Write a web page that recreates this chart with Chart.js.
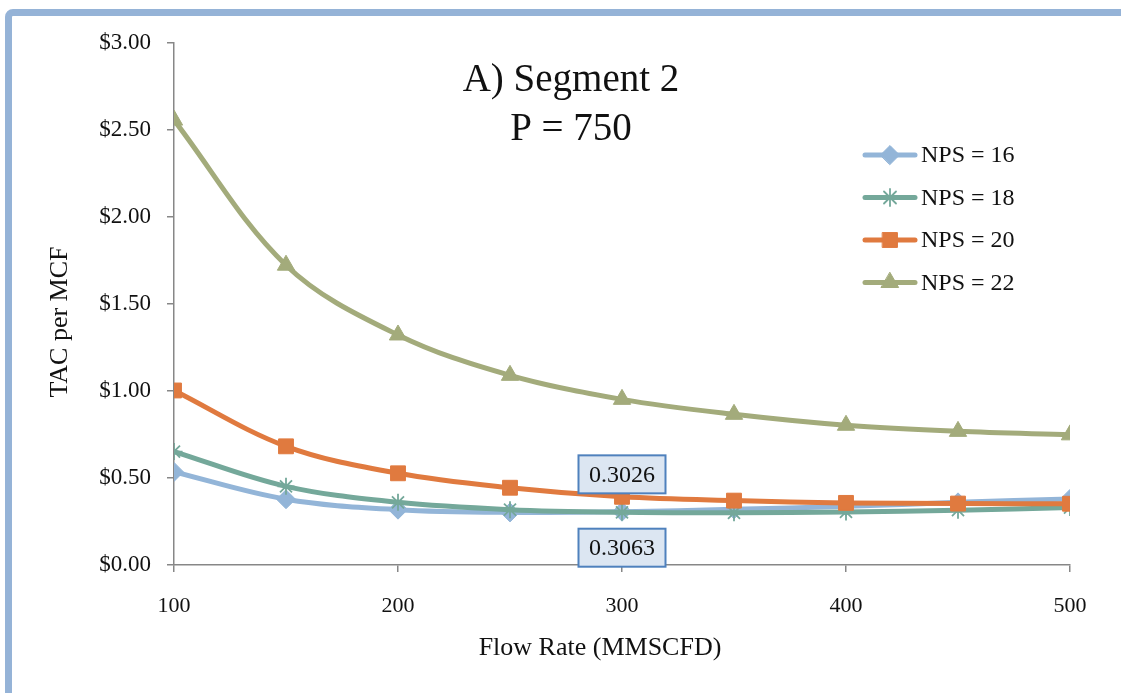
<!DOCTYPE html>
<html><head><meta charset="utf-8">
<script src="https://cdn.jsdelivr.net/npm/chart.js@4.4.0/dist/chart.umd.min.js"></script>
<style>
html,body{margin:0;padding:0;background:#fff;overflow:hidden;width:1121px;height:693px;}
#frame{position:absolute;left:5px;top:9px;width:1300px;height:900px;border:7px solid #95b3d7;border-radius:8px;box-sizing:border-box;}
#wrap{position:absolute;left:0;top:0;width:1121px;height:693px;}
</style></head>
<body>
<div id="frame"></div>
<div id="wrap"><canvas id="c" width="1121" height="693"></canvas></div>
<script>
// ---- data ----
const flowRates = [100, 150, 200, 250, 300, 350, 400, 450, 500];
const nps16 = [0.535, 0.378, 0.318, 0.302, 0.3063, 0.320, 0.337, 0.360, 0.380];
const nps18 = [0.652, 0.452, 0.360, 0.318, 0.3026, 0.300, 0.305, 0.315, 0.330];
const nps20 = [1.003, 0.682, 0.527, 0.444, 0.392, 0.370, 0.357, 0.353, 0.352];
const nps22 = [2.557, 1.723, 1.322, 1.090, 0.952, 0.866, 0.803, 0.768, 0.748];
const seriesLabels = ['NPS = 16', 'NPS = 18', 'NPS = 20', 'NPS = 22'];
const titleLines = ['A) Segment 2', 'P = 750'];
const xTitle = 'Flow Rate (MMSCFD)';
const yTitle = 'TAC per MCF';
// data labels: [series index, point index, placement]
const dataLabels = [[1, 4, 'above'], [0, 4, 'below']];

const FONT = "'Liberation Serif', 'Times New Roman', serif";
const colors = ['#93b5d8', '#74a89a', '#e07a3f', '#a3ab7b'];
const styles = ['rectRot', 'star', 'rect', 'triangle'];
const radii = [9.5, 8.5, 10.5, 10];
const allSeries = [nps16, nps18, nps20, nps22];

const datasets = allSeries.map((vals, i) => ({
  label: seriesLabels[i],
  data: flowRates.map((x, j) => ({x: x, y: vals[j]})),
  borderColor: colors[i],
  backgroundColor: colors[i],
  pointBackgroundColor: colors[i],
  pointBorderColor: colors[i],
  borderWidth: 5,
  pointStyle: styles[i],
  pointRadius: radii[i],
  pointBorderWidth: i === 1 ? 1.8 : 1,
  tension: 0.35,
  order: 4 - i
}));

const overlay = {
  id: 'overlay',
  afterDatasetsDraw(chart) {
    const ctx = chart.ctx;
    dataLabels.forEach(([ds, idx, place]) => {
      const pt = chart.getDatasetMeta(ds).data[idx];
      const val = allSeries[ds][idx];
      const w = 87, h = 38;
      const cy = place === 'above' ? pt.y - 38 : pt.y + 36;
      ctx.save();
      ctx.fillStyle = '#dce6f2';
      ctx.strokeStyle = '#4f81bd';
      ctx.lineWidth = 2;
      ctx.fillRect(pt.x - w / 2, cy - h / 2, w, h);
      ctx.strokeRect(pt.x - w / 2, cy - h / 2, w, h);
      ctx.fillStyle = '#111';
      ctx.font = '24px ' + FONT;
      ctx.textAlign = 'center';
      ctx.textBaseline = 'middle';
      ctx.fillText(val.toFixed(4), pt.x, cy + 1);
      ctx.restore();
    });
  },
  afterDraw(chart) {
    const ctx = chart.ctx;
    ctx.save();
    ctx.fillStyle = '#111';
    ctx.textAlign = 'center';
    ctx.textBaseline = 'alphabetic';
    ctx.font = '39px ' + FONT;
    ctx.fillText(titleLines[0], 571, 91);
    ctx.fillText(titleLines[1], 571, 140);
    // axis titles
    ctx.font = '26px ' + FONT;
    ctx.textBaseline = 'middle';
    ctx.fillText(xTitle, 600, 648);
    ctx.save();
    ctx.translate(60, 322);
    ctx.rotate(-Math.PI / 2);
    ctx.fillText(yTitle, 0, 0);
    ctx.restore();
    // legend
    chart.data.datasets.forEach((d, i) => {
      const y = 155 + i * 42.5;
      ctx.strokeStyle = d.borderColor;
      ctx.lineWidth = 5;
      ctx.lineCap = 'round';
      ctx.beginPath();
      ctx.moveTo(865, y);
      ctx.lineTo(915, y);
      ctx.stroke();
      ctx.fillStyle = d.pointBackgroundColor;
      ctx.strokeStyle = d.pointBorderColor;
      ctx.lineWidth = d.pointBorderWidth;
      Chart.helpers.drawPoint(ctx, {pointStyle: d.pointStyle, radius: d.pointRadius, borderWidth: d.pointBorderWidth, rotation: 0}, 890, y);
      ctx.fillStyle = '#111';
      ctx.font = '24px ' + FONT;
      ctx.textAlign = 'left';
      ctx.textBaseline = 'middle';
      ctx.fillText(d.label, 921, y + 1);
    });
    ctx.restore();
  }
};

new Chart(document.getElementById('c'), {
  type: 'line',
  data: {datasets},
  options: {
    responsive: false,
    animation: false,
    devicePixelRatio: 1,
    layout: {padding: {top: 43, right: 51, left: 0, bottom: 0}},
    plugins: {legend: {display: false}, tooltip: {enabled: false}},
    scales: {
      x: {
        type: 'linear', min: 100, max: 500,
        afterFit(s) { s.height = 128; },
        ticks: {stepSize: 100, padding: 21, color: '#111', font: {family: FONT, size: 22}},
        grid: {drawOnChartArea: false, drawTicks: true, tickLength: 7, color: '#878787', lineWidth: 1.5},
        border: {display: true, color: '#878787', width: 1.5}
      },
      y: {
        min: 0, max: 3,
        afterFit(s) { s.width = 174; },
        ticks: {stepSize: 0.5, padding: 16, color: '#111', font: {family: FONT, size: 23},
                callback: v => '$' + Number(v).toFixed(2)},
        grid: {drawOnChartArea: false, drawTicks: true, tickLength: 7, color: '#878787', lineWidth: 1.5},
        border: {display: true, color: '#878787', width: 1.5}
      }
    }
  },
  plugins: [overlay]
});
</script>
</body></html>
